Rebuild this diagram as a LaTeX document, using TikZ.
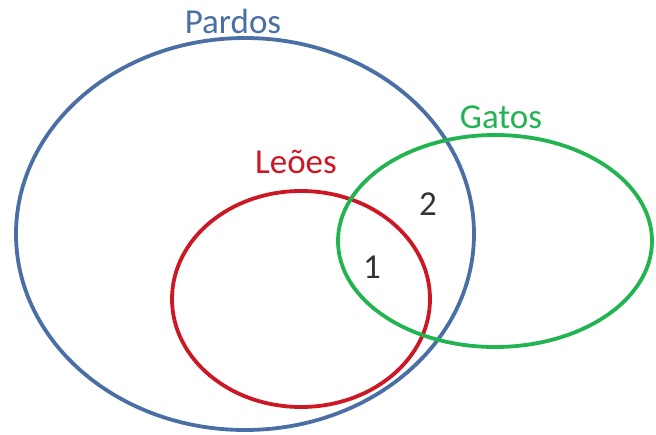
\documentclass[tikz,border=0pt]{standalone}
\usepackage{fontspec}
\setmainfont{Carlito}
\definecolor{pardoblue}{RGB}{74,111,165}
\definecolor{leaored}{RGB}{204,24,36}
\definecolor{gatogreen}{RGB}{34,180,80}
\begin{document}
\begin{tikzpicture}[x=1pt,y=-1pt,
  set/.style={line width=3.8pt},
  lbl/.style={anchor=base,font=\fontsize{35}{38}\selectfont}]
\useasboundingbox (0,0) rectangle (656,434);
% the three sets
\draw[set,pardoblue] (245,234) ellipse [x radius=229, y radius=196];
\draw[set,leaored] (301,299) ellipse [x radius=129, y radius=108];
\draw[set,gatogreen] (495,241) ellipse [x radius=157, y radius=106];
% names of the sets
\node (pardos)[lbl,text=pardoblue] at (233,33) {Pardos};
\node (gatos)[lbl,text=gatogreen] at (501,128) {Gatos};
\node (leoes)[lbl,text=leaored] at (296,173) {Leões};
% regions
\node (two)[lbl,text=black!80] at (428,215) {2};
\node (one)[lbl,text=black!80] at (372,278) {1};
\end{tikzpicture}
\end{document}
